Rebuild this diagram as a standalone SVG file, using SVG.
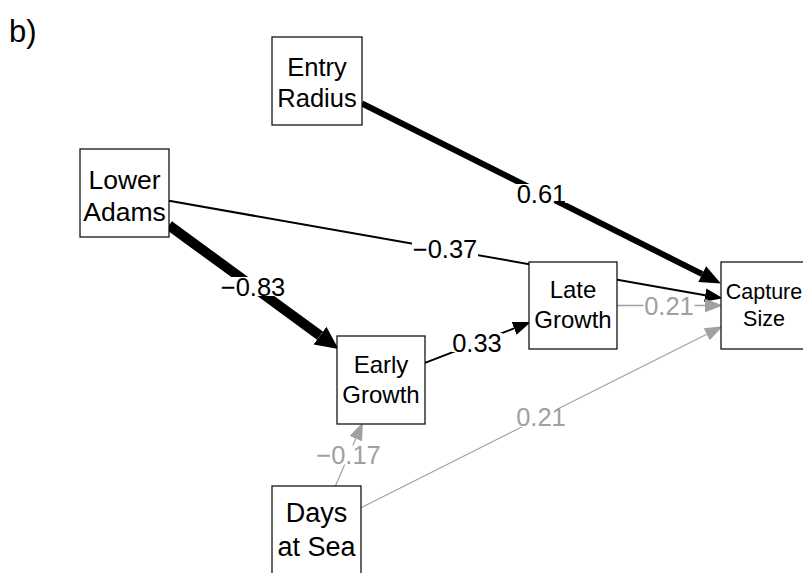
<svg xmlns="http://www.w3.org/2000/svg" width="803" height="573" viewBox="0 0 803 573">
<style>
  text { font-family: "Liberation Sans", Arial, sans-serif; fill: #000; }
  .box { fill: #fff; stroke: #000; stroke-width: 1.2; }
  .nl { text-anchor: middle; }
  .e { fill: none; stroke: #000; stroke-linecap: butt; }
  .g { stroke: #a0a0a0; }
  .lbg { fill: #fff; stroke: none; }
  .lb { font-size: 25.5px; text-anchor: middle; }
  .lbg2 { fill: #a0a0a0; }
</style>
<defs>
  <marker id="ahBig" markerUnits="userSpaceOnUse" markerWidth="24" markerHeight="24" refX="0" refY="10" orient="auto" viewBox="0 0 22 20">
    <path d="M0,0 L21,10 L0,20 Z" fill="#000"/>
  </marker>
  <marker id="ahMid" markerUnits="userSpaceOnUse" markerWidth="22" markerHeight="20" refX="0" refY="8" orient="auto" viewBox="0 0 20 16">
    <path d="M0,0 L19,8 L0,16 Z" fill="#000"/>
  </marker>
  <marker id="ahSm" markerUnits="userSpaceOnUse" markerWidth="18" markerHeight="14" refX="0" refY="6" orient="auto" viewBox="0 0 16 12">
    <path d="M0,0 L16,6 L0,12 Z" fill="#000"/>
  </marker>
  <marker id="ahGr" markerUnits="userSpaceOnUse" markerWidth="18" markerHeight="14" refX="0" refY="6" orient="auto" viewBox="0 0 16 12">
    <path d="M0,0 L16,6 L0,12 Z" fill="#a0a0a0"/>
  </marker>
</defs>

<text x="9" y="42" font-size="31">b)</text>

<g id="connectors">
  <!-- Entry Radius -> Capture Size -->
  <line class="e" x1="362" y1="103.5" x2="702.2" y2="274.1" stroke-width="6" marker-end="url(#ahMid)"/>
  <!-- Lower Adams -> Capture Size -->
  <line class="e" x1="169" y1="200.8" x2="705.2" y2="295.2" stroke-width="2" marker-end="url(#ahSm)"/>
  <!-- Lower Adams -> Early Growth -->
  <line class="e" x1="169" y1="225.4" x2="320" y2="335.6" stroke-width="10" marker-end="url(#ahBig)"/>
  <!-- Early Growth -> Late Growth -->
  <line class="e" x1="425" y1="362.9" x2="514.1" y2="328.4" stroke-width="2" marker-end="url(#ahSm)"/>
  <!-- Late Growth -> Capture Size -->
  <line class="e g" x1="617" y1="305.5" x2="705" y2="305.5" stroke-width="1.5" marker-end="url(#ahGr)"/>
  <!-- Days at Sea -> Early Growth -->
  <line class="e g" x1="335.4" y1="486" x2="355.8" y2="438.7" stroke-width="1.2" marker-end="url(#ahGr)"/>
  <!-- Days at Sea -> Capture Size -->
  <line class="e g" x1="361" y1="507.7" x2="706.7" y2="334.2" stroke-width="1.2" marker-end="url(#ahGr)"/>

  <g id="edge-labels">
    <rect class="lbg" x="516" y="184" width="51" height="19"/>
    <text class="lb" x="541.5" y="202.5">0.61</text>
    <rect class="lbg" x="412" y="240" width="66" height="19"/>
    <text class="lb" x="445" y="258.4">−0.37</text>
    <rect class="lbg" x="220" y="277" width="66" height="19"/>
    <text class="lb" x="253" y="295.7">−0.83</text>
    <rect class="lbg" x="451.5" y="333" width="51" height="19"/>
    <text class="lb" x="477" y="351.7">0.33</text>
    <rect class="lbg" x="643.5" y="296" width="51" height="19"/>
    <text class="lb lbg2" x="669" y="314.5">0.21</text>
    <rect class="lbg" x="315.5" y="445.5" width="66" height="19"/>
    <text class="lb lbg2" x="348.5" y="464">−0.17</text>
    <rect class="lbg" x="515.5" y="408" width="51" height="19"/>
    <text class="lb lbg2" x="541" y="426.4">0.21</text>
  </g>
</g>

<g id="entry-radius">
  <rect class="box" x="272" y="37" width="90" height="88"/>
  <text class="nl" x="317" y="76" font-size="25.5">Entry</text>
  <text class="nl" x="317" y="107" font-size="25.5">Radius</text>
</g>

<g id="lower-adams">
  <rect class="box" x="80" y="149" width="89" height="88"/>
  <text class="nl" x="124.5" y="189" font-size="26.5">Lower</text>
  <text class="nl" x="124.5" y="221" font-size="26.5">Adams</text>
</g>

<g id="late-growth">
  <rect class="box" x="529" y="262" width="88" height="87"/>
  <text class="nl" x="573" y="298" font-size="24">Late</text>
  <text class="nl" x="573" y="328" font-size="24">Growth</text>
</g>

<g id="early-growth">
  <rect class="box" x="337" y="336" width="88" height="88"/>
  <text class="nl" x="381" y="373" font-size="24">Early</text>
  <text class="nl" x="381" y="403" font-size="24">Growth</text>
</g>

<g id="days-at-sea">
  <rect class="box" x="272" y="486" width="89" height="88"/>
  <text class="nl" x="316.5" y="522" font-size="27">Days</text>
  <text class="nl" x="316.5" y="556" font-size="27">at Sea</text>
</g>

<g id="capture-size">
  <rect class="box" x="721" y="262" width="86" height="87"/>
  <text class="nl" x="764" y="299" font-size="21.5">Capture</text>
  <text class="nl" x="764" y="326" font-size="21.5">Size</text>
</g>
</svg>
